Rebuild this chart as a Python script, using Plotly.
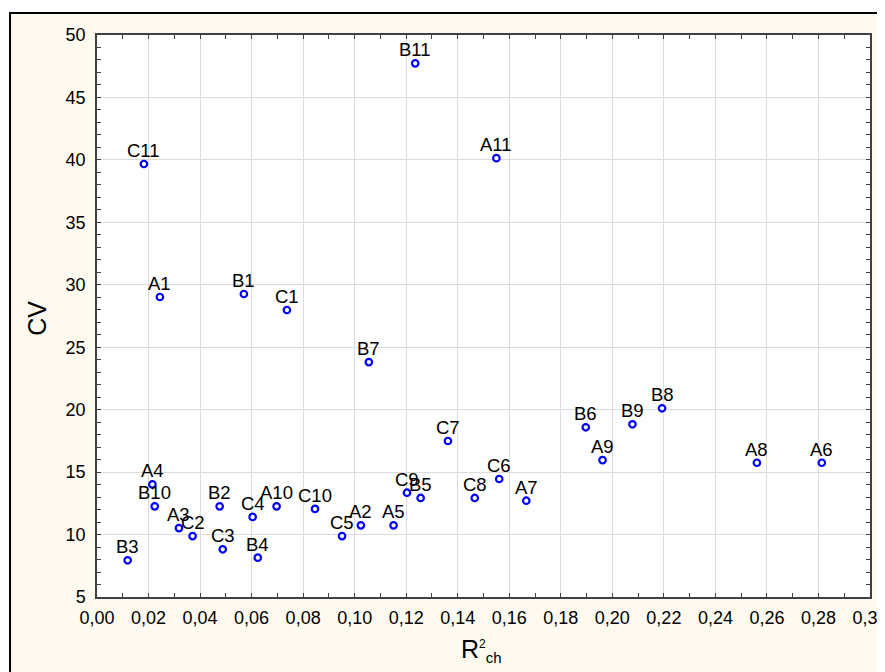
import plotly.graph_objects as go

labels = ["A1", "A2", "A3", "A4", "A5", "A6", "A7", "A8", "A9", "A10", "A11",
          "B1", "B2", "B3", "B4", "B5", "B6", "B7", "B8", "B9", "B10", "B11",
          "C1", "C2", "C3", "C4", "C5", "C6", "C7", "C8", "C9", "C10", "C11"]
r2ch = [0.0244, 0.1024, 0.0318, 0.0215, 0.1151, 0.2813, 0.1666, 0.2561, 0.1962, 0.0697, 0.1550,
        0.0570, 0.0476, 0.0119, 0.0624, 0.1256, 0.1897, 0.1055, 0.2193, 0.2078, 0.0224, 0.1235,
        0.0737, 0.0371, 0.0488, 0.0604, 0.0951, 0.1561, 0.1362, 0.1466, 0.1203, 0.0846, 0.0182]
cv = [29.02, 10.74, 10.52, 14.02, 10.74, 15.75, 12.71, 15.75, 15.96, 12.26, 40.14,
      29.26, 12.26, 7.94, 8.15, 12.93, 18.59, 23.81, 20.11, 18.83, 12.26, 47.73,
      27.98, 9.88, 8.82, 11.41, 9.88, 14.45, 17.49, 12.93, 13.35, 12.05, 39.67]

FONT = "Liberation Sans, Arial, sans-serif"

fig = go.Figure()
fig.add_trace(go.Scatter(
    x=r2ch, y=cv, mode="markers",
    marker=dict(symbol="circle", size=6.5, color="white",
                line=dict(color="#0000FF", width=2.2)),
    showlegend=False, cliponaxis=False,
))

axis_common = dict(
    showline=True, linecolor="#404040", linewidth=1.5, mirror="allticks",
    ticks="inside", ticklen=4, tickcolor="#404040", tickwidth=1,
    showgrid=True, gridcolor="#DCDCDC", gridwidth=1, zeroline=False,
    tickfont=dict(family=FONT, size=18, color="black"),
    automargin=False, ticklabeloverflow="allow",
)

fig.update_xaxes(
    range=[0, 0.30], dtick=0.02, tick0=0, tickformat=".2f", ticklabelstandoff=4,
    minor=dict(dtick=0.01, ticks="inside", ticklen=4, tickcolor="#404040", showgrid=False),
    **axis_common,
)
fig.update_yaxes(
    range=[5, 50], dtick=5, tick0=5, ticklabelstandoff=6,
    minor=dict(dtick=1, ticks="inside", ticklen=4, tickcolor="#404040", showgrid=False),
    **axis_common,
)

annotations = [
    dict(text=t, x=xv, y=yv, xref="x", yref="y", showarrow=False,
         xanchor="center", yanchor="bottom", yshift=1,
         font=dict(family=FONT, size=18.5, color="black"))
    for t, xv, yv in zip(labels, r2ch, cv)
]
annotations += [
    dict(text="CV", xref="paper", yref="paper", x=-0.0776, y=0.495,
         xanchor="center", yanchor="middle", textangle=-90, showarrow=False,
         font=dict(family=FONT, size=25, color="black")),
    dict(text='R<sup><span style="font-size:12px">2</span></sup><sub><span style="font-size:15px">ch</span></sub>',
         xref="paper", yref="paper", x=0.497, y=-0.096,
         xanchor="center", yanchor="middle", showarrow=False,
         font=dict(family=FONT, size=25, color="black")),
]

fig.update_layout(
    width=877, height=664,
    margin=dict(l=89, r=15, t=27, b=75),
    paper_bgcolor="white", plot_bgcolor="white",
    separators=", ",
    shapes=[
        dict(type="rect", xref="paper", yref="paper", x0=-0.1125, x1=1.2, y0=-0.3, y1=1.039,
             fillcolor="#FEFAF0", line=dict(color="black", width=2), layer="below"),
        dict(type="rect", xref="paper", yref="paper", x0=0, x1=1, y0=0, y1=1,
             fillcolor="white", line=dict(width=0), layer="below"),
    ],
    annotations=annotations,
)

fig.write_html("out.html")
